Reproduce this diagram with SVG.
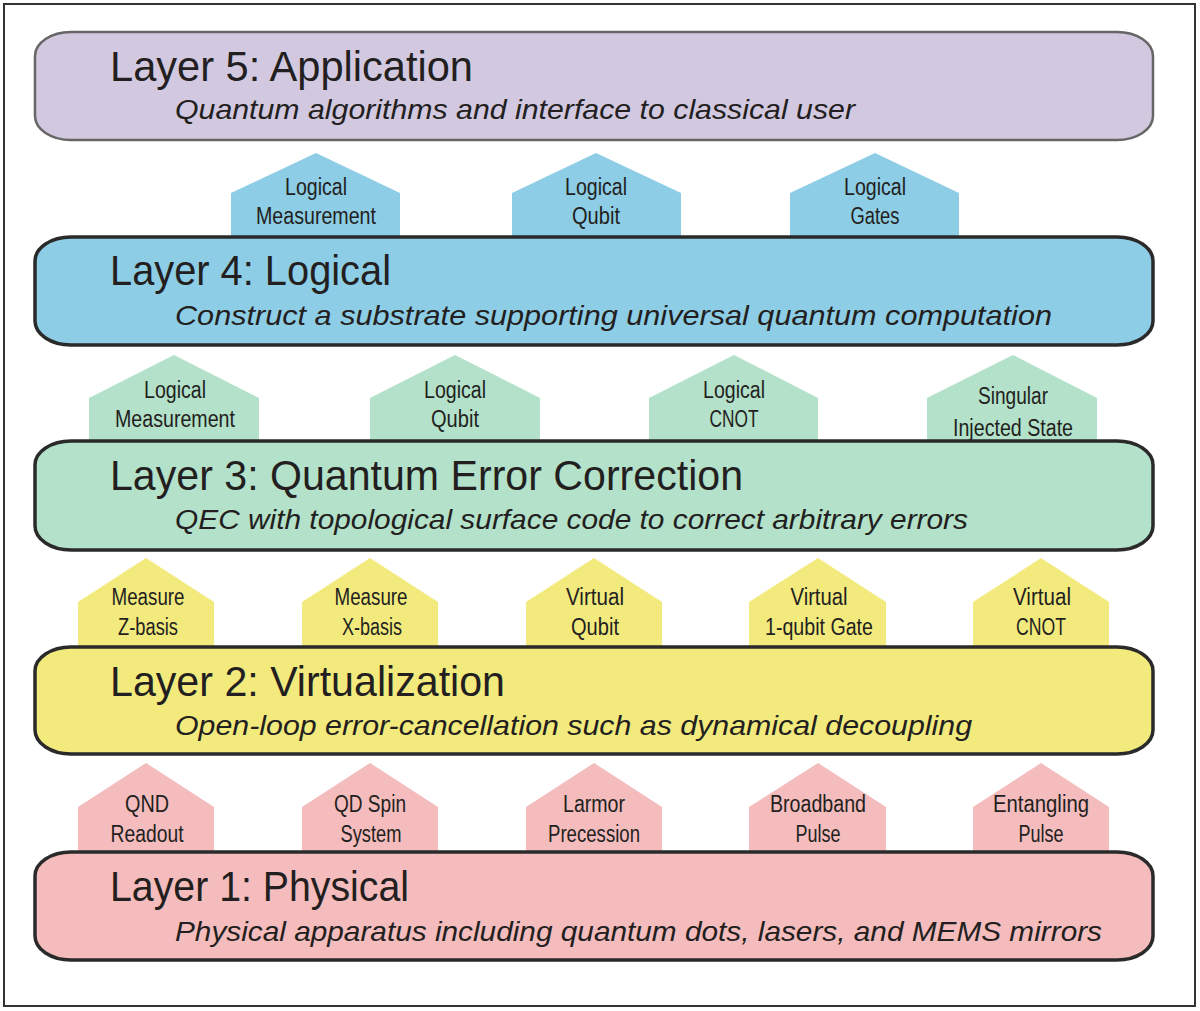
<svg xmlns="http://www.w3.org/2000/svg" width="1200" height="1011" viewBox="0 0 1200 1011">
<style>
.frame{fill:#ffffff;stroke:#333;stroke-width:2}
.layer{stroke:#2a2a2a;stroke-width:3.5}
.l5{fill:#d2c9e1;stroke:#666;stroke-width:2.5}
.l4{fill:#8dcde6}
.l3{fill:#b3e1ca}
.l2{fill:#f3ea7e}
.l1{fill:#f4bcbc}
.title{font-family:"Liberation Sans",Arial,sans-serif;font-size:42px;fill:#231f20}
.sub{font-family:"Liberation Sans",Arial,sans-serif;font-size:28px;font-style:italic;fill:#231f20}
.lab{font-family:"Liberation Sans",Arial,sans-serif;font-size:23.5px;fill:#231f20;text-anchor:middle}
.pb{fill:#8dcde6}
.pg{fill:#b3e1ca}
.py{fill:#f3ea7e}
.pp{fill:#f4bcbc}
</style>
<rect class="frame" x="4" y="4" width="1191" height="1002"/>

<g id="connectors">
<g id="row-a">
<polygon class="pb" points="231,237 231,193 316,153 400,193 400,237"/>
<polygon class="pb" points="512,237 512,193 596,153 681,193 681,237"/>
<polygon class="pb" points="790,237 790,193 875,153 959,193 959,237"/>
<text class="lab" x="316" y="195" textLength="62" lengthAdjust="spacingAndGlyphs">Logical</text>
<text class="lab" x="316" y="224" textLength="120" lengthAdjust="spacingAndGlyphs">Measurement</text>
<text class="lab" x="596" y="195" textLength="62" lengthAdjust="spacingAndGlyphs">Logical</text>
<text class="lab" x="596" y="224" textLength="48" lengthAdjust="spacingAndGlyphs">Qubit</text>
<text class="lab" x="875" y="195" textLength="62" lengthAdjust="spacingAndGlyphs">Logical</text>
<text class="lab" x="875" y="224" textLength="49" lengthAdjust="spacingAndGlyphs">Gates</text>
</g>
<g id="row-b">
<polygon class="pg" points="89,441 89,398 174,355 259,398 259,441"/>
<polygon class="pg" points="370,441 370,398 455,355 540,398 540,441"/>
<polygon class="pg" points="649,441 649,398 734,355 818,398 818,441"/>
<polygon class="pg" points="927,441 927,398 1013,355 1097,398 1097,441"/>
<text class="lab" x="175" y="398" textLength="62" lengthAdjust="spacingAndGlyphs">Logical</text>
<text class="lab" x="175" y="427" textLength="120" lengthAdjust="spacingAndGlyphs">Measurement</text>
<text class="lab" x="455" y="398" textLength="62" lengthAdjust="spacingAndGlyphs">Logical</text>
<text class="lab" x="455" y="427" textLength="48" lengthAdjust="spacingAndGlyphs">Qubit</text>
<text class="lab" x="734" y="398" textLength="62" lengthAdjust="spacingAndGlyphs">Logical</text>
<text class="lab" x="734" y="427" textLength="49" lengthAdjust="spacingAndGlyphs">CNOT</text>
<text class="lab" x="1013" y="404" textLength="70" lengthAdjust="spacingAndGlyphs">Singular</text>
<text class="lab" x="1013" y="436" textLength="120" lengthAdjust="spacingAndGlyphs">Injected State</text>
</g>
<g id="row-c">
<polygon class="py" points="78,647 78,602 146,558 214,602 214,647"/>
<polygon class="py" points="302,647 302,602 370,558 438,602 438,647"/>
<polygon class="py" points="526,647 526,602 594,558 662,602 662,647"/>
<polygon class="py" points="749,647 749,602 818,558 886,602 886,647"/>
<polygon class="py" points="973,647 973,602 1041,558 1109,602 1109,647"/>
<text class="lab" x="148" y="605" textLength="73" lengthAdjust="spacingAndGlyphs">Measure</text>
<text class="lab" x="148" y="635" textLength="60" lengthAdjust="spacingAndGlyphs">Z-basis</text>
<text class="lab" x="371" y="605" textLength="73" lengthAdjust="spacingAndGlyphs">Measure</text>
<text class="lab" x="372" y="635" textLength="60" lengthAdjust="spacingAndGlyphs">X-basis</text>
<text class="lab" x="595" y="605" textLength="58" lengthAdjust="spacingAndGlyphs">Virtual</text>
<text class="lab" x="595" y="635" textLength="48" lengthAdjust="spacingAndGlyphs">Qubit</text>
<text class="lab" x="819" y="605" textLength="57" lengthAdjust="spacingAndGlyphs">Virtual</text>
<text class="lab" x="819" y="635" textLength="108" lengthAdjust="spacingAndGlyphs">1-qubit Gate</text>
<text class="lab" x="1042" y="605" textLength="58" lengthAdjust="spacingAndGlyphs">Virtual</text>
<text class="lab" x="1041" y="635" textLength="50" lengthAdjust="spacingAndGlyphs">CNOT</text>
</g>
<g id="row-d">
<polygon class="pp" points="78,852 78,807 146,763 214,807 214,852"/>
<polygon class="pp" points="302,852 302,807 370,763 438,807 438,852"/>
<polygon class="pp" points="526,852 526,807 594,763 662,807 662,852"/>
<polygon class="pp" points="749,852 749,807 818,763 886,807 886,852"/>
<polygon class="pp" points="973,852 973,807 1041,763 1109,807 1109,852"/>
<text class="lab" x="147" y="812" textLength="44" lengthAdjust="spacingAndGlyphs">QND</text>
<text class="lab" x="147" y="842" textLength="73" lengthAdjust="spacingAndGlyphs">Readout</text>
<text class="lab" x="370" y="812" textLength="72" lengthAdjust="spacingAndGlyphs">QD Spin</text>
<text class="lab" x="371" y="842" textLength="61" lengthAdjust="spacingAndGlyphs">System</text>
<text class="lab" x="594" y="812" textLength="62" lengthAdjust="spacingAndGlyphs">Larmor</text>
<text class="lab" x="594" y="842" textLength="92" lengthAdjust="spacingAndGlyphs">Precession</text>
<text class="lab" x="818" y="812" textLength="96" lengthAdjust="spacingAndGlyphs">Broadband</text>
<text class="lab" x="818" y="842" textLength="45" lengthAdjust="spacingAndGlyphs">Pulse</text>
<text class="lab" x="1041" y="812" textLength="96" lengthAdjust="spacingAndGlyphs">Entangling</text>
<text class="lab" x="1041" y="842" textLength="45" lengthAdjust="spacingAndGlyphs">Pulse</text>
</g>
</g>

<g id="layer5">
<rect class="l5" x="35" y="32" width="1118" height="108" rx="36" ry="24"/>
<text class="title" x="110" y="81" textLength="363" lengthAdjust="spacingAndGlyphs">Layer 5: Application</text>
<text class="sub" x="175" y="119" textLength="680" lengthAdjust="spacingAndGlyphs">Quantum algorithms and interface to classical user</text>
</g>
<g id="layer4">
<rect class="layer l4" x="35" y="237" width="1118" height="108" rx="36" ry="24"/>
<text class="title" x="110" y="285" textLength="281" lengthAdjust="spacingAndGlyphs">Layer 4: Logical</text>
<text class="sub" x="175" y="325" textLength="877" lengthAdjust="spacingAndGlyphs">Construct a substrate supporting universal quantum computation</text>
</g>
<g id="layer3">
<rect class="layer l3" x="35" y="441" width="1118" height="109" rx="36" ry="24"/>
<text class="title" x="110" y="490" textLength="633" lengthAdjust="spacingAndGlyphs">Layer 3: Quantum Error Correction</text>
<text class="sub" x="175" y="529" textLength="793" lengthAdjust="spacingAndGlyphs">QEC with topological surface code to correct arbitrary errors</text>
</g>
<g id="layer2">
<rect class="layer l2" x="35" y="647" width="1118" height="107" rx="36" ry="24"/>
<text class="title" x="110" y="696" textLength="395" lengthAdjust="spacingAndGlyphs">Layer 2: Virtualization</text>
<text class="sub" x="175" y="735" textLength="797" lengthAdjust="spacingAndGlyphs">Open-loop error-cancellation such as dynamical decoupling</text>
</g>
<g id="layer1">
<rect class="layer l1" x="35" y="852" width="1118" height="108" rx="36" ry="24"/>
<text class="title" x="110" y="901" textLength="299" lengthAdjust="spacingAndGlyphs">Layer 1: Physical</text>
<text class="sub" x="175" y="941" textLength="927" lengthAdjust="spacingAndGlyphs">Physical apparatus including quantum dots, lasers, and MEMS mirrors</text>
</g>
</svg>
